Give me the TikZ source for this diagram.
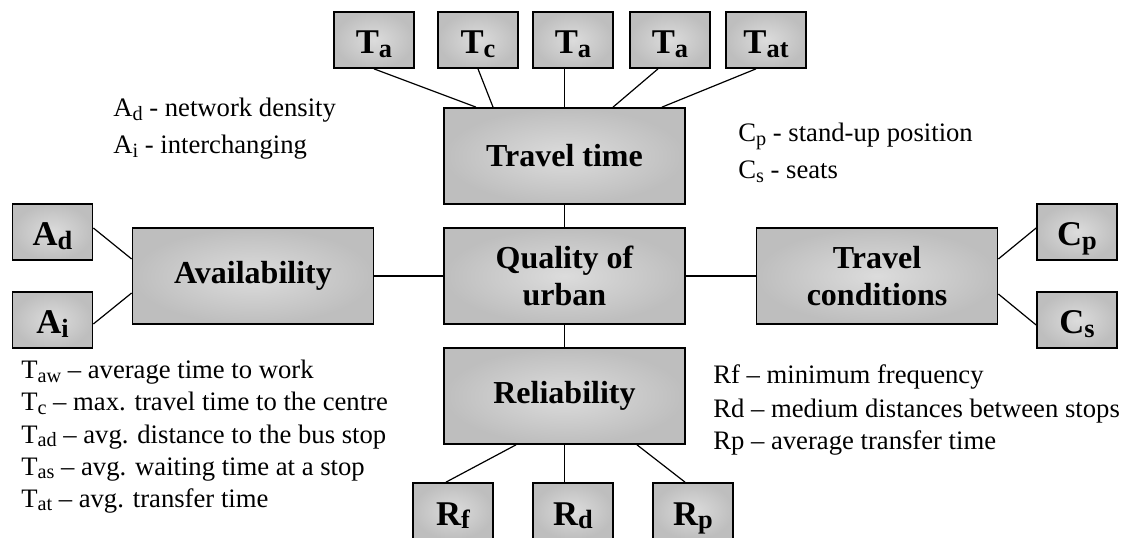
\documentclass[tikz,border=0pt]{standalone}
\usepackage{fontspec}
\setmainfont{Liberation Serif}

\definecolor{boxlight}{RGB}{220,220,220}
\definecolor{boxdark}{RGB}{190,190,190}

\newcommand{\lowsub}[1]{\raisebox{-0.25ex}{\scalebox{0.76}{#1}}}

\tikzset{
  factor/.style={draw,line width=1.3pt,inner color=boxlight,outer color=boxdark,
    minimum width=180.75pt,minimum height=72pt,align=center,
    font=\bfseries\fontsize{24}{27.5}\selectfont},
  index/.style={factor,minimum width=60pt,minimum height=42pt,
    text height=23pt,text depth=2pt,font=\bfseries\fontsize{26}{28}\selectfont},
  legend/.style={anchor=base west,inner sep=0pt,font=\fontsize{20}{24}\selectfont},
  link/.style={line width=0.9pt}
}

\begin{document}
\begin{tikzpicture}[x=0.75pt,y=-0.75pt]
\useasboundingbox (0,0) rectangle (1136,538);

% main factors
\node[factor] (qual) at (564.5,276) {Quality of\\urban};
\node[factor] (tt) at (564.5,156) {Travel time};
\node[factor] (rel) at (564.5,396) {Reliability};
\node[factor] (avail) at (253,276) {Availability};
\node[factor] (cond) at (877,276) {Travel\\conditions};

% indicators
\foreach \x/\s/\n in {374/a/1,478/c/2,573/a/3,670/a/4,766/at/5}
  \node[index] (t\n) at (\x,40) {T\lowsub{\s}};
\node[index] (ad) at (52.5,232) {A\lowsub{d}};
\node[index] (ai) at (52.5,320) {A\lowsub{i}};
\node[index] (cp) at (1077,232) {C\lowsub{p}};
\node[index] (cs) at (1077,320) {C\lowsub{s}};
\node[index] (rf) at (453,511) {R\lowsub{f}};
\node[index] (rd) at (573,511) {R\lowsub{d}};
\node[index] (rp) at (693,511) {R\lowsub{p}};

% connectors
\draw[link] (qual) -- (tt);
\draw[link] (qual) -- (rel);
\draw[link] (qual) -- (avail);
\draw[link] (qual) -- (cond);
\draw[link] (t1.south) -- ([xshift=-66.4pt]tt.north);
\draw[link] (t2.south) -- ([xshift=-53.6pt]tt.north);
\draw[link] (tt.north) -- (tt.north |- t3.south);
\draw[link] ([xshift=-9pt]t4.south) -- ([xshift=36.4pt]tt.north);
\draw[link] ([xshift=-7.5pt]t5.south) -- ([xshift=73.1pt]tt.north);
\draw[link] ([yshift=3pt]ad.east) -- ([yshift=12.75pt]avail.west);
\draw[link] ([yshift=-3pt]ai.east) -- ([yshift=-12.75pt]avail.west);
\draw[link] ([yshift=12.75pt]cond.east) -- ([yshift=3pt]cp.west);
\draw[link] ([yshift=-13.5pt]cond.east) -- ([yshift=-3.75pt]cs.west);
\draw[link] ([xshift=-36.4pt]rel.south) -- ([xshift=-5.25pt]rf.north);
\draw[link] (rel.south) -- (rel.south |- rd.north);
\draw[link] ([xshift=54.4pt]rel.south) -- ([xshift=-6pt]rp.north);

% legends
\node[legend] (la1) at (113,117) {A\lowsub{d} - network density};
\node[legend] (la2) at (113,154) {A\lowsub{i} - interchanging};
\node[legend] (lc1) at (738,142) {C\lowsub{p} - stand-up position};
\node[legend] (lc2) at (738,179) {C\lowsub{s} - seats};
\node[legend] (lt1) at (21,379) {T\lowsub{aw} -- average time to work};
\node[legend] (lt2) at (21,411) {T\lowsub{c} -- max. travel time to the centre};
\node[legend] (lt3) at (21,443) {T\lowsub{ad} -- avg. distance to the bus stop};
\node[legend] (lt4) at (21,475) {T\lowsub{as} -- avg. waiting time at a stop};
\node[legend] (lt5) at (21,507) {T\lowsub{at} -- avg. transfer time};
\node[legend] (lr1) at (713,383) {Rf -- minimum frequency};
\node[legend] (lr2) at (713,417) {Rd -- medium distances between stops};
\node[legend] (lr3) at (713,450) {Rp -- average transfer time};
\end{tikzpicture}
\end{document}
